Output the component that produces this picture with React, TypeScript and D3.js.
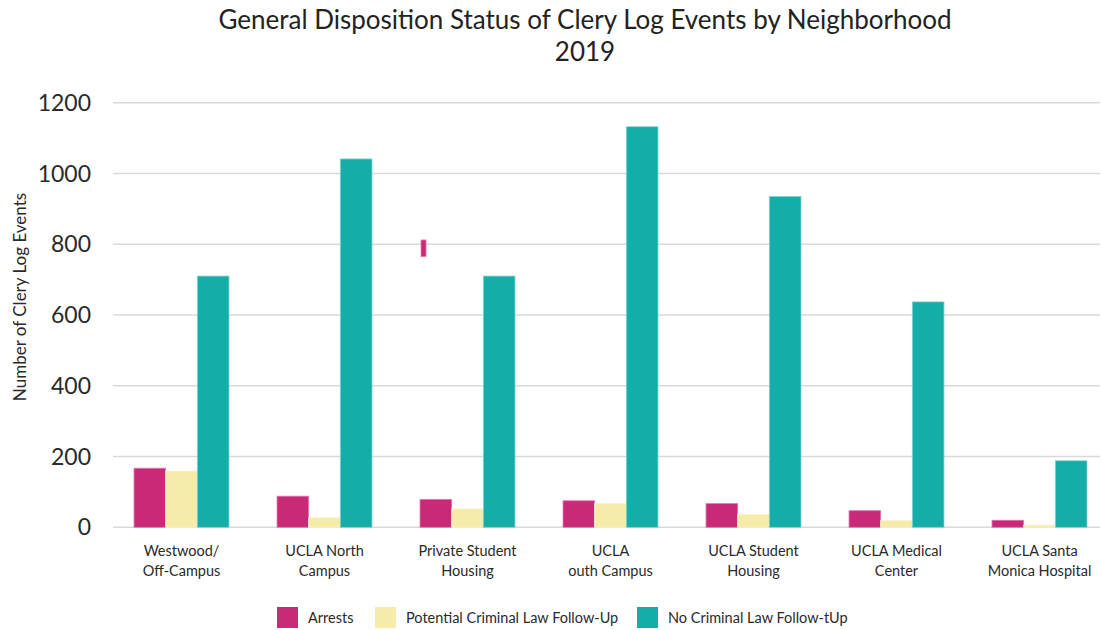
import React, { useEffect, useRef } from "react";
import * as d3 from "d3";

const categories = [
  "Westwood/\nOff-Campus",
  "UCLA North\nCampus",
  "Private Student\nHousing",
  "UCLA\nouth Campus",
  "UCLA Student\nHousing",
  "UCLA Medical\nCenter",
  "UCLA Santa\nMonica Hospital",
];
const seriesNames = ["Arrests", "Potential Criminal Law Follow-Up", "No Criminal Law Follow-tUp"];
const arrests = [167, 88, 79, 75, 67, 47, 20];
const potentialFollowUp = [159, 27, 52, 67, 37, 19, 6];
const noFollowUp = [710, 1041, 710, 1132, 935, 637, 188];
const yTicks = [0, 200, 400, 600, 800, 1000, 1200];
// stray mark in the source picture (Private Student Housing, arrests slot)
const strayMark = { category: 2, from: 765, to: 812 };

const colors = ["#C82A78", "#F6ECAA", "#14ADA7"];
const strokes = ["#E07AAE", "#FAF3CE", "#7FD3CF"];
const FONT = "Lato, 'Open Sans', sans-serif";

export default function App() {
  const ref = useRef<SVGSVGElement | null>(null);

  useEffect(() => {
    const svg = d3.select(ref.current);
    svg.selectAll("*").remove();

    const width = 1102;
    const height = 630;
    const values = [arrests, potentialFollowUp, noFollowUp];

    const x0 = d3
      .scaleBand<number>()
      .domain(d3.range(categories.length))
      .range([110, 1111])
      .paddingInner(0.336)
      .paddingOuter(0.168);
    const x1 = d3
      .scaleBand<number>()
      .domain(d3.range(seriesNames.length))
      .range([0, x0.bandwidth()]);
    const y = d3.scaleLinear().domain([0, 1200]).range([527.3, 102.7]);

    svg.attr("width", width).attr("height", height);
    svg.append("rect").attr("width", width).attr("height", height).attr("fill", "#fff");

    // title
    svg
      .append("text")
      .attr("x", 585)
      .attr("y", 29)
      .attr("text-anchor", "middle")
      .style("font-family", FONT)
      .style("font-size", "26px")
      .style("fill", "#222")
      .text("General Disposition Status of Clery Log Events by Neighborhood");
    svg
      .append("text")
      .attr("x", 585)
      .attr("y", 61)
      .attr("text-anchor", "middle")
      .style("font-family", FONT)
      .style("font-size", "26px")
      .style("fill", "#222")
      .text("2019");

    // gridlines
    svg
      .selectAll(".grid")
      .data(yTicks)
      .enter()
      .append("line")
      .attr("x1", 113)
      .attr("x2", 1100)
      .attr("y1", (d) => y(d))
      .attr("y2", (d) => y(d))
      .attr("stroke", "#D9D9D9")
      .attr("stroke-width", 1.5);

    // y tick labels
    svg
      .selectAll(".ytick")
      .data(yTicks)
      .enter()
      .append("text")
      .attr("x", 91)
      .attr("y", (d) => y(d))
      .attr("dy", "0.35em")
      .attr("text-anchor", "end")
      .style("font-family", FONT)
      .style("font-size", "23px")
      .style("fill", "#2a2a2a")
      .text((d) => d);

    // y axis title
    svg
      .append("text")
      .attr("transform", "translate(26,297) rotate(-90)")
      .attr("text-anchor", "middle")
      .style("font-family", FONT)
      .style("font-size", "17px")
      .style("fill", "#2a2a2a")
      .text("Number of Clery Log Events");

    // bars
    values.forEach((series, s) => {
      svg
        .selectAll(".bar" + s)
        .data(series)
        .enter()
        .append("rect")
        .attr("x", (_, i) => (x0(i) as number) + (x1(s) as number))
        .attr("y", (d) => y(d))
        .attr("width", x1.bandwidth())
        .attr("height", (d) => y(0) - y(d))
        .attr("fill", colors[s])
        .attr("stroke", strokes[s])
        .attr("stroke-width", 0.8);
    });

    // stray mark
    svg
      .append("rect")
      .attr("x", (x0(strayMark.category) as number) + (x1(0) as number) + 1)
      .attr("y", y(strayMark.to))
      .attr("width", 5)
      .attr("height", y(strayMark.from) - y(strayMark.to))
      .attr("fill", colors[0])
      .attr("stroke", strokes[0])
      .attr("stroke-width", 0.8);

    // x labels
    const xl = svg
      .selectAll(".xlabel")
      .data(categories)
      .enter()
      .append("text")
      .attr("text-anchor", "middle")
      .style("font-family", FONT)
      .style("font-size", "14.5px")
      .style("fill", "#2a2a2a");
    xl.each(function (d, i) {
      const t = d3.select(this);
      const cx = (x0(i) as number) + x0.bandwidth() / 2;
      d.split("\n").forEach((line, k) => {
        t.append("tspan").attr("x", cx).attr("y", 556 + k * 20).text(line);
      });
    });

    // legend
    const legendX = [277, 375, 637];
    const lg = svg
      .selectAll(".legend")
      .data(seriesNames)
      .enter()
      .append("g")
      .attr("transform", (_, i) => `translate(${legendX[i]},607)`);
    lg.append("rect")
      .attr("width", 21)
      .attr("height", 21)
      .attr("fill", (_, i) => colors[i]);
    lg.append("text")
      .attr("x", 31)
      .attr("y", 11)
      .attr("dy", "0.35em")
      .style("font-family", FONT)
      .style("font-size", "14.5px")
      .style("fill", "#2a2a2a")
      .text((d) => d);
  }, []);

  return <svg ref={ref} style={{ display: "block", position: "absolute", left: 0, top: 0 }}></svg>;
}
